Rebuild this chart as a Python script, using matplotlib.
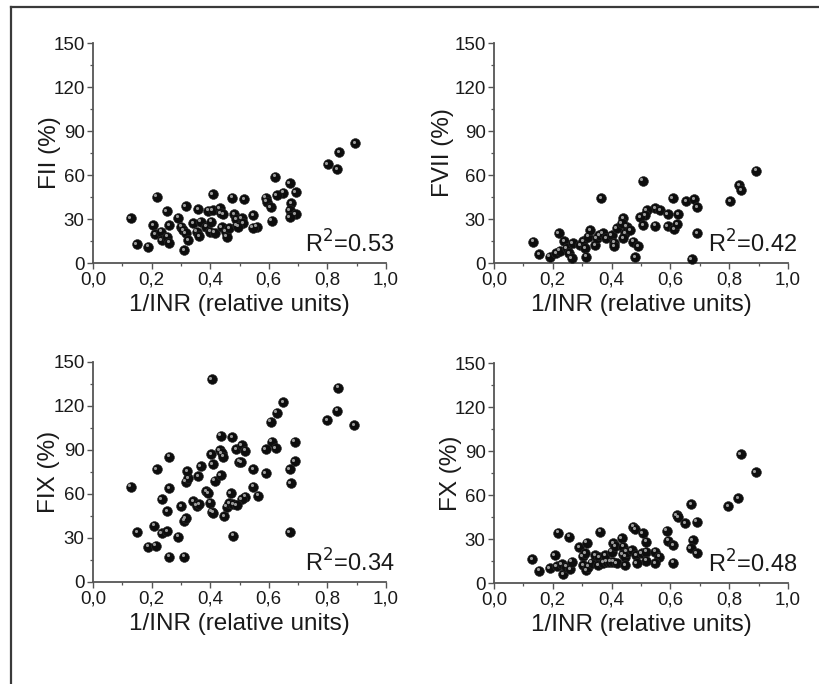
import matplotlib

matplotlib.use("Agg")
import matplotlib.pyplot as plt
from matplotlib.lines import Line2D
from matplotlib.ticker import FuncFormatter, MultipleLocator
from matplotlib.transforms import offset_copy

plt.rcParams["font.family"] = ["Liberation Sans", "DejaVu Sans"]

# 1/INR vs. factor activity
FII_X = [0.128, 0.149, 0.189, 0.217, 0.206, 0.212, 0.232, 0.234, 0.254, 0.261,
         0.261, 0.251, 0.291, 0.300, 0.308, 0.317, 0.325, 0.312, 0.317, 0.342,
         0.359, 0.354, 0.363, 0.367, 0.386, 0.394, 0.399, 0.403, 0.408, 0.408,
         0.416, 0.433, 0.436, 0.445, 0.439, 0.453, 0.456, 0.465, 0.475, 0.481,
         0.490, 0.894, 0.841, 0.801, 0.834, 0.621, 0.672, 0.650, 0.627, 0.692,
         0.590, 0.593, 0.606, 0.676, 0.672, 0.692, 0.672, 0.610, 0.547, 0.559,
         0.545, 0.516, 0.488, 0.507, 0.513, 0.496]
FII_Y = [30.5, 13.0, 11.1, 45.2, 25.9, 19.6, 21.4, 15.7, 17.9, 13.9,
         25.9, 35.5, 30.9, 24.8, 22.5, 20.3, 15.7, 8.9, 38.9, 27.1,
         36.8, 21.4, 18.4, 28.2, 24.8, 35.7, 21.4, 28.2, 47.1, 36.1,
         20.7, 37.3, 33.9, 33.4, 24.3, 21.4, 17.9, 23.7, 44.5, 33.4,
         25.9, 81.6, 75.7, 67.3, 64.1, 58.9, 54.4, 48.0, 46.4, 48.4,
         44.5, 41.8, 38.0, 40.7, 36.1, 33.4, 31.2, 28.9, 32.7, 24.8,
         24.1, 43.4, 29.8, 30.5, 27.1, 24.8]

FVII_X = [0.134, 0.153, 0.190, 0.211, 0.220, 0.238, 0.224, 0.247, 0.256, 0.264,
          0.268, 0.293, 0.304, 0.310, 0.313, 0.321, 0.327, 0.344, 0.349, 0.358,
          0.364, 0.370, 0.381, 0.400, 0.408, 0.408, 0.417, 0.440, 0.446, 0.451,
          0.891, 0.834, 0.841, 0.803, 0.506, 0.608, 0.653, 0.680, 0.692, 0.692,
          0.672, 0.548, 0.565, 0.591, 0.627, 0.519, 0.514, 0.497, 0.508, 0.548,
          0.591, 0.612, 0.623, 0.434, 0.463, 0.440, 0.474, 0.491, 0.480]
FVII_Y = [14.5, 6.1, 4.3, 6.6, 20.3, 15.0, 8.4, 10.0, 6.6, 3.2,
          13.4, 12.3, 15.0, 10.0, 4.3, 17.9, 22.5, 12.3, 16.8, 19.1,
          44.1, 20.3, 16.8, 19.1, 13.9, 11.6, 23.7, 30.5, 20.3, 24.8,
          63.0, 53.2, 49.8, 42.3, 56.2, 44.1, 42.3, 43.6, 38.0, 20.3,
          2.5, 37.3, 36.1, 33.4, 33.4, 36.1, 32.7, 31.2, 25.9, 25.4,
          25.2, 23.0, 26.4, 27.1, 22.5, 16.8, 14.5, 11.6, 3.9]

FIX_X = [0.405, 0.261, 0.217, 0.129, 0.151, 0.189, 0.214, 0.208, 0.234, 0.254,
         0.234, 0.254, 0.261, 0.261, 0.291, 0.300, 0.311, 0.311, 0.317, 0.317,
         0.325, 0.322, 0.342, 0.354, 0.362, 0.360, 0.368, 0.386, 0.394, 0.399,
         0.405, 0.411, 0.403, 0.409, 0.416, 0.433, 0.439, 0.445, 0.436, 0.436,
         0.447, 0.456, 0.465, 0.470, 0.479, 0.475, 0.479, 0.488, 0.499, 0.837,
         0.834, 0.800, 0.892, 0.650, 0.627, 0.606, 0.610, 0.623, 0.589, 0.689,
         0.689, 0.672, 0.675, 0.672, 0.589, 0.547, 0.547, 0.564, 0.505, 0.507,
         0.519, 0.519, 0.507, 0.490]
FIX_Y = [138.4, 85.5, 77.1, 65.0, 33.9, 24.1, 24.8, 38.4, 33.2, 34.8,
         56.6, 48.4, 63.9, 17.3, 30.9, 51.8, 17.3, 41.8, 43.4, 68.4,
         70.7, 75.7, 55.2, 52.0, 53.2, 72.3, 79.1, 62.1, 60.5, 54.1,
         47.9, 47.3, 87.1, 80.5, 69.1, 90.0, 87.8, 85.5, 99.8, 73.0,
         45.0, 51.4, 53.7, 60.5, 53.2, 98.7, 31.6, 90.5, 82.1, 132.5,
         116.8, 110.5, 106.9, 122.6, 115.5, 109.3, 95.7, 91.2, 90.5, 95.7,
         82.5, 77.1, 67.3, 33.9, 74.1, 77.1, 65.0, 58.9, 81.6, 93.4,
         89.5, 58.2, 56.4, 52.5]

FX_X = [0.130, 0.153, 0.190, 0.207, 0.219, 0.213, 0.230, 0.236, 0.245, 0.259,
        0.264, 0.256, 0.290, 0.302, 0.315, 0.310, 0.304, 0.313, 0.321, 0.332,
        0.344, 0.358, 0.361, 0.355, 0.372, 0.383, 0.395, 0.406, 0.417, 0.378,
        0.400, 0.406, 0.412, 0.434, 0.440, 0.438, 0.446, 0.839, 0.890, 0.831,
        0.797, 0.670, 0.621, 0.627, 0.650, 0.689, 0.587, 0.593, 0.610, 0.676,
        0.669, 0.689, 0.610, 0.474, 0.480, 0.506, 0.517, 0.451, 0.468, 0.483,
        0.502, 0.517, 0.548, 0.562, 0.548, 0.517, 0.485, 0.446]
FX_Y = [16.2, 8.4, 10.0, 19.1, 34.3, 11.6, 13.0, 6.1, 11.1, 9.3,
        14.5, 31.6, 24.3, 18.4, 27.5, 20.3, 12.3, 8.9, 11.1, 13.9,
        19.1, 17.5, 35.0, 12.3, 13.9, 14.5, 14.5, 14.5, 13.4, 19.1,
        21.4, 27.1, 25.2, 30.5, 24.8, 19.8, 17.9, 88.0, 75.5, 57.8,
        52.5, 53.7, 46.4, 44.8, 40.7, 41.8, 35.7, 28.9, 25.9, 29.3,
        23.7, 20.3, 13.9, 38.4, 36.6, 33.9, 28.2, 21.4, 22.5, 19.1,
        20.3, 21.4, 21.4, 17.9, 13.4, 15.2, 13.4, 12.3]

PANEL_LABELS = ["FII (%)", "FVII (%)", "FIX (%)", "FX (%)"]
R2_LABELS = ["R$^2$=0.53", "R$^2$=0.42", "R$^2$=0.34", "R$^2$=0.48"]
X_LABEL = "1/INR (relative units)"

W, H = 819, 684
# axes boxes in pixels: left, bottom(y of x-axis), right, top
BOXES = [(93, 263, 386, 43), (494, 263, 788, 43), (93, 582, 386, 362), (494, 583, 788, 363)]
# x position (axes fraction) of the right edge of each rotated y label
YLABEL_X = [-0.108, -0.135, -0.113, -0.11]
AXIS_GREY = "#555555"
TEXT = "#1a1a1a"


def comma_fmt(value, _pos):
    return f"{value:.1f}".replace(".", ",")


def draw_panel(fig, box, xs, ys, ylabel, label_x, r2):
    left, bottom, right, top = box
    ax = fig.add_axes([left / W, 1 - bottom / H, (right - left) / W, (bottom - top) / H])

    ax.scatter(xs, ys, s=50, color="#0d0d0d", edgecolors="#2a2a2a", linewidths=0.4,
               zorder=3, clip_on=False)
    # small highlight so the markers read as shaded balls
    shine = offset_copy(ax.transData, fig=fig, x=-1.4, y=1.4, units="dots")
    ax.scatter(xs, ys, s=5, color="#b5b5b5", alpha=0.85, linewidths=0,
               transform=shine, zorder=4, clip_on=False)

    ax.set_xlim(0, 1.0)
    ax.set_ylim(0, 150)
    ax.xaxis.set_major_locator(MultipleLocator(0.2))
    ax.xaxis.set_minor_locator(MultipleLocator(0.1))
    ax.yaxis.set_major_locator(MultipleLocator(30))
    ax.yaxis.set_minor_locator(MultipleLocator(15))
    ax.xaxis.set_major_formatter(FuncFormatter(comma_fmt))

    for side in ("top", "right"):
        ax.spines[side].set_visible(False)
    for side in ("left", "bottom"):
        ax.spines[side].set_color(AXIS_GREY)
        ax.spines[side].set_linewidth(1.3)

    ax.tick_params(which="major", direction="out", length=4, width=1.0,
                   color=AXIS_GREY, labelsize=13.5, labelcolor=TEXT, pad=2)
    ax.tick_params(which="minor", direction="out", length=2.5, width=0.9, color=AXIS_GREY)

    ax.set_xlabel(X_LABEL, fontsize=17.5, color=TEXT, labelpad=4)
    ax.set_ylabel(ylabel, fontsize=17.5, color=TEXT)
    ax.yaxis.set_label_coords(label_x, 0.5)
    ax.text(1.03, 7, r2, fontsize=17, color=TEXT, ha="right", va="baseline")
    ax.set_facecolor("none")
    return ax


def main():
    fig = plt.figure(figsize=(W / 100, H / 100), dpi=100)

    datasets = [(FII_X, FII_Y), (FVII_X, FVII_Y), (FIX_X, FIX_Y), (FX_X, FX_Y)]
    for box, (xs, ys), ylabel, label_x, r2 in zip(BOXES, datasets, PANEL_LABELS,
                                                 YLABEL_X, R2_LABELS):
        draw_panel(fig, box, xs, ys, ylabel, label_x, r2)

    # frame around the figure (only top and left edges are visible in the scan)
    fx = 11 / W
    fy = 1 - 6.5 / H
    fig.add_artist(Line2D([fx, 1.0], [fy, fy], color="#3a3a3a", linewidth=1.6))
    fig.add_artist(Line2D([fx, fx], [0.0, fy], color="#3a3a3a", linewidth=1.6))

    fig.savefig("out.png", dpi=100)
    plt.close(fig)


if __name__ == "__main__":
    main()
